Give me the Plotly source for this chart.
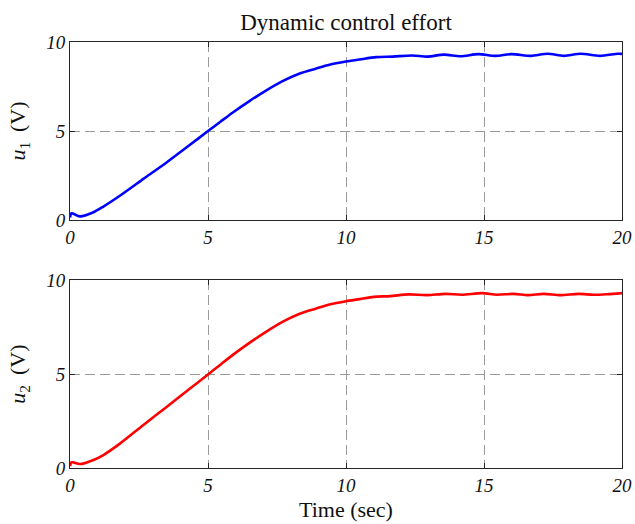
import plotly.graph_objects as go

# ---- data ----
t1 = [0, 0.05, 0.12, 0.36, 0.85, 1.21, 1.82, 2.66, 3.51, 4.36, 5.0, 5.45, 5.9, 6.5, 7.1,
      7.7, 8.3, 8.9, 9.4, 10.0, 10.5, 11.1, 11.7, 12.4, 12.95, 13.55, 14.15, 14.8, 15.4,
      16.0, 16.7, 17.3, 17.9, 18.5, 19.2, 19.85, 20.0]
u1 = [0.15, 0.38, 0.36, 0.21, 0.44, 0.76, 1.38, 2.31, 3.25, 4.24, 5.0, 5.52, 6.04, 6.68, 7.27,
      7.8, 8.22, 8.5, 8.72, 8.9, 9.02, 9.15, 9.18, 9.24, 9.18, 9.29, 9.2, 9.32, 9.22,
      9.32, 9.22, 9.34, 9.22, 9.34, 9.22, 9.34, 9.33]

t2 = [0, 0.05, 0.12, 0.36, 0.85, 1.21, 1.82, 2.66, 3.51, 4.36, 5.0, 5.45, 5.9, 6.5, 7.1,
      7.7, 8.3, 8.9, 9.4, 10.0, 10.5, 11.0, 11.6, 12.27, 12.93, 13.6, 14.2, 14.93, 15.47,
      16.07, 16.6, 17.16, 17.77, 18.43, 18.97, 19.46, 20.0]
u2 = [0.1, 0.3, 0.3, 0.21, 0.43, 0.69, 1.31, 2.29, 3.26, 4.24, 4.98, 5.5, 6.02, 6.66, 7.25,
      7.78, 8.2, 8.48, 8.7, 8.88, 8.99, 9.11, 9.15, 9.24, 9.2, 9.27, 9.22, 9.31, 9.22,
      9.27, 9.2, 9.27, 9.2, 9.27, 9.22, 9.25, 9.31]

x_ticks = [0, 5, 10, 15, 20]
y_ticks = [0, 5, 10]

title_text = "Dynamic control effort"
ylabel1 = "<i>u</i><sub>1</sub>\u2009 (V)"
ylabel2 = "<i>u</i><sub>2</sub>\u2009 (V)"
xlabel = "Time (sec)"

FONT = "Liberation Serif"

fig = go.Figure()
fig.add_trace(go.Scatter(x=t1, y=u1, mode="lines", xaxis="x", yaxis="y",
                         line=dict(color="#0000ff", width=2.6, shape="spline", smoothing=0.8),
                         showlegend=False))
fig.add_trace(go.Scatter(x=t2, y=u2, mode="lines", xaxis="x2", yaxis="y2",
                         line=dict(color="#ff0000", width=2.6, shape="spline", smoothing=0.8),
                         showlegend=False))

tickfont = dict(family=FONT, size=19, color="#111111", style="italic")
grid = dict(showgrid=True, gridcolor="#9a9a9a", griddash="10px,5px", gridwidth=1)
frame = dict(showline=True, linecolor="#262626", linewidth=1, mirror="ticks",
             ticks="inside", ticklen=5, tickcolor="#262626",
             zeroline=False, fixedrange=True, automargin=False)
common_x = dict(range=[0, 20], tickvals=x_ticks, ticktext=[str(v) for v in x_ticks],
                tickfont=tickfont, **grid, **frame)
common_y = dict(range=[0, 10], tickvals=y_ticks, ticktext=[str(v) for v in y_ticks],
                tickfont=tickfont, **grid, **frame)

fig.update_layout(
    width=635, height=524,
    margin=dict(l=70, r=13, t=42, b=56),
    paper_bgcolor="white", plot_bgcolor="white",
    font=dict(family=FONT, color="#111111"),
    title=dict(text=title_text, x=0.5, xref="paper", xanchor="center",
               y=1 - 22 / 524, yref="container", yanchor="middle",
               font=dict(family=FONT, size=23, color="#111111")),
    xaxis=dict(**common_x, domain=[0, 1], anchor="y"),
    yaxis=dict(**common_y, domain=[0.582, 1], anchor="x",
               title=dict(text=ylabel1, font=dict(family=FONT, size=22), standoff=14)),
    xaxis2=dict(**common_x, domain=[0, 1], anchor="y2",
                title=dict(text=xlabel, font=dict(family=FONT, size=22), standoff=6)),
    yaxis2=dict(**common_y, domain=[0, 0.441], anchor="x2",
                title=dict(text=ylabel2, font=dict(family=FONT, size=22), standoff=14)),
)

fig.write_html("out.html")
